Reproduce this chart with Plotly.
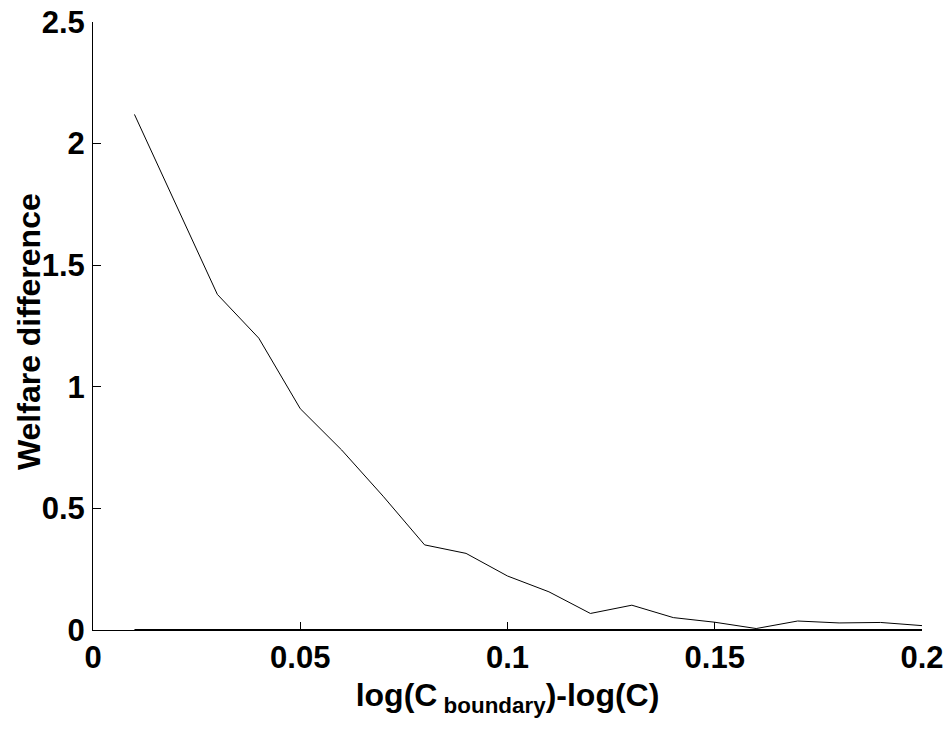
import plotly.graph_objects as go

x_vals = [0.01, 0.02, 0.03, 0.04, 0.05, 0.06, 0.07, 0.08, 0.09, 0.10,
          0.11, 0.12, 0.13, 0.14, 0.15, 0.16, 0.17, 0.18, 0.19, 0.20]
welfare_diff = [2.12, 1.75, 1.38, 1.20, 0.91, 0.74, 0.55, 0.35, 0.315, 0.222,
                0.157, 0.068, 0.102, 0.051, 0.032, 0.006, 0.037, 0.029, 0.031, 0.018]
zero_line = [0.0] * len(x_vals)

x_ticks = [0, 0.05, 0.1, 0.15, 0.2]
x_ticklabels = ["0", "0.05", "0.1", "0.15", "0.2"]
y_ticks = [0, 0.5, 1, 1.5, 2, 2.5]
y_ticklabels = ["0", "0.5", "1", "1.5", "2", "2.5"]

fig = go.Figure()
fig.add_trace(go.Scatter(x=x_vals, y=welfare_diff, mode="lines",
                         line=dict(color="black", width=1), showlegend=False))
fig.add_trace(go.Scatter(x=x_vals, y=zero_line, mode="lines",
                         line=dict(color="black", width=2), showlegend=False,
                         cliponaxis=False))

font_family = "Liberation Sans, Arial, sans-serif"
plot_w = 949 - 93 - 27
fig.update_layout(
    width=949, height=733,
    margin=dict(l=93, r=27, t=22, b=103),
    plot_bgcolor="white", paper_bgcolor="white",
    font=dict(family=font_family, size=31, color="black", weight="bold"),
    xaxis=dict(range=[0, 0.2], tickvals=x_ticks, ticktext=x_ticklabels,
               ticks="inside", ticklen=8, tickcolor="black", tickwidth=1,
               showline=True, linecolor="black", linewidth=1, mirror=False,
               showgrid=False, zeroline=False, automargin=False,
               tickfont=dict(size=31, weight="bold"),
               title=dict(text="log(C<sub> boundary</sub>)-log(C)",
                          font=dict(size=32, weight="bold"), standoff=9)),
    yaxis=dict(range=[0, 2.5], tickvals=y_ticks, ticktext=y_ticklabels,
               ticks="inside", ticklen=8, tickcolor="black", tickwidth=1,
               showline=True, linecolor="black", linewidth=1, mirror=False,
               showgrid=False, zeroline=False, automargin=False,
               ticklabelstandoff=1,
               tickfont=dict(size=31, weight="bold")),
    annotations=[dict(text="Welfare difference", textangle=-90,
                      xref="paper", yref="paper",
                      x=(29 - 93) / plot_w, y=0.49,
                      xanchor="center", yanchor="middle", showarrow=False,
                      font=dict(size=32, weight="bold"))],
)

fig.write_html("out.html")
